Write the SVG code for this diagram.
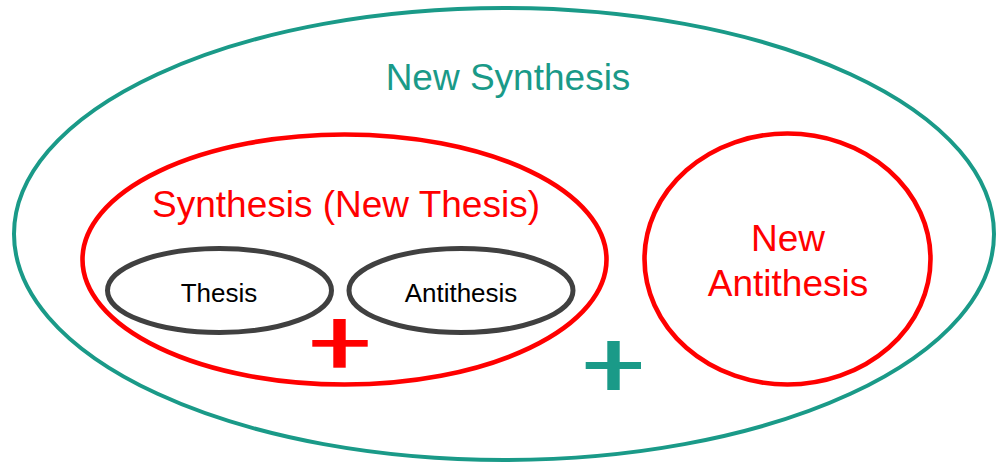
<svg xmlns="http://www.w3.org/2000/svg" width="999" height="464" viewBox="0 0 999 464">
  <style>
    .teal { stroke: #1a9a88; stroke-width: 4; }
    .red { stroke: #ff0000; stroke-width: 4.6; }
    .ring { fill: none; }
    .inner { fill: none; stroke: #404040; stroke-width: 5; }
    .lbl { font-family: "Liberation Sans", Arial, sans-serif; text-anchor: middle; }
    .big { font-size: 37px; }
    .small { font-size: 26px; fill: #000; }
  </style>
  <rect width="999" height="464" fill="#fff"/>

  <g id="new-synthesis">
    <ellipse class="ring teal" cx="504" cy="234" rx="490" ry="226"/>
    <text class="lbl big" x="508" y="90" fill="#1a9a88">New Synthesis</text>
  </g>

  <g id="synthesis">
    <ellipse class="ring red" cx="344.5" cy="259.5" rx="262" ry="125"/>
    <text class="lbl big" x="346" y="217" fill="#ff0000">Synthesis (New Thesis)</text>
  </g>

  <g id="thesis">
    <ellipse class="inner" cx="219.5" cy="290.5" rx="112" ry="42"/>
    <text class="lbl small" x="219" y="302">Thesis</text>
  </g>

  <g id="antithesis">
    <ellipse class="inner" cx="461" cy="290.5" rx="112" ry="42"/>
    <text class="lbl small" x="461" y="302">Antithesis</text>
  </g>

  <g id="new-antithesis">
    <ellipse class="ring red" cx="787.5" cy="259" rx="143" ry="125.5"/>
    <text class="lbl big" x="788" y="251" fill="#ff0000">New</text>
    <text class="lbl big" x="788" y="296" fill="#ff0000">Antithesis</text>
  </g>

  <g id="connectors">
    <!-- plus signs joining the parts -->
    <g fill="#ff0000">
      <rect x="333.3" y="319" width="12.4" height="48.7"/>
      <rect x="312.3" y="340" width="55.4" height="6.7"/>
    </g>
    <g fill="#1a9a88">
      <rect x="607.3" y="341" width="12.4" height="49"/>
      <rect x="585.7" y="362" width="55.3" height="7"/>
    </g>
  </g>
</svg>
